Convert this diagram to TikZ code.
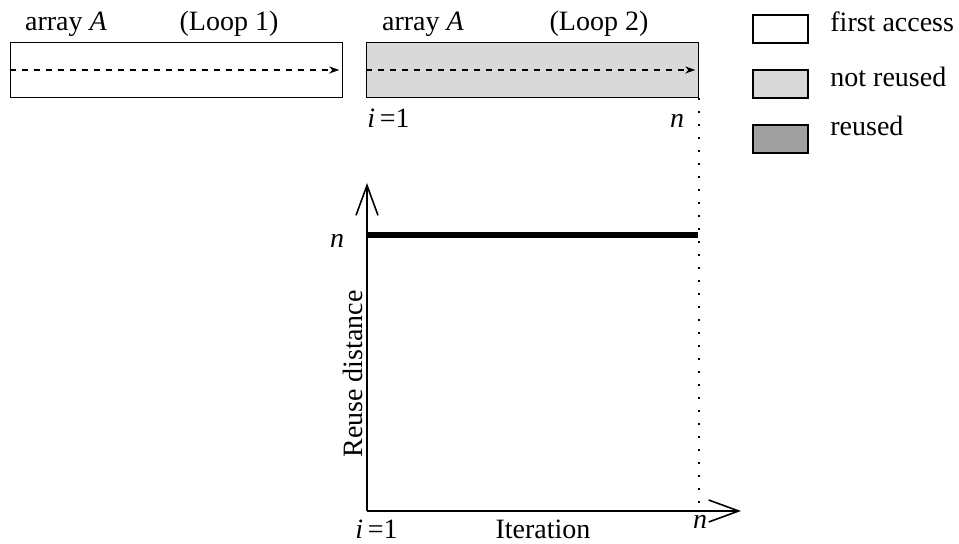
\documentclass[tikz,border=0pt]{standalone}
\usepackage{fontspec}
\setmainfont{Liberation Serif}
\usetikzlibrary{arrows.meta}
\tikzset{arraybox/.style={draw, line width=0.8pt, inner sep=0pt, minimum width=166pt, minimum height=27.5pt},
keybox/.style={draw, line width=0.8pt, inner sep=0pt, minimum width=27.5pt, minimum height=14pt},
lbl/.style={inner sep=0pt, anchor=base, font=\fontsize{14}{16}\selectfont},
sweep/.style={dashed, line width=0.6pt, -{Stealth[length=5pt, width=3.5pt, inset=1.5pt]}, shorten >=2pt},
axis/.style={line width=0.8pt, -{Straight Barb[length=15pt, width=11pt, line width=0.8pt]}}}
\definecolor{notreused}{RGB}{217,217,217}
\definecolor{reusedgray}{RGB}{160,160,160}

\begin{document}
\begin{tikzpicture}[x=0.5pt, y=-0.5pt]
  \useasboundingbox (0,0) rectangle (959,544);
  % the two sweeps over A
  \node[arraybox, fill=white] (l1) at (176.5,70) {};
  \node[arraybox, fill=notreused] (l2) at (532.5,70) {};
  \draw[sweep] (l1.west) -- (l1.east);
  \draw[sweep] (l2.west) -- (l2.east);
  \node[lbl] (a1) at (66,31) {array \textit{A}};
  \node[lbl] (p1) at (229,31) {(Loop 1)};
  \node[lbl] (a2) at (423,31) {array \textit{A}};
  \node[lbl] (p2) at (599,31) {(Loop 2)};
  \node[lbl, anchor=base west] (i1) at (367,128) {\textit{i}\,=1};
  \node[lbl] (n1) at (677,128) {\textit{n}};
  % legend
  \node[keybox, fill=white] (k1) at (780.5,29) {};
  \node[keybox, fill=notreused] (k2) at (780.5,84) {};
  \node[keybox, fill=reusedgray] (k3) at (780.5,139) {};
  \node[lbl, anchor=base west] (t1) at (830,32) {first access};
  \node[lbl, anchor=base west] (t2) at (830,87) {not reused};
  \node[lbl, anchor=base west] (t3) at (830,136) {reused};
  % reuse distance plot
  \coordinate (o) at (367,511);
  \coordinate (ytop) at (367,183);
  \coordinate (xend) at (741,511);
  \coordinate (hl) at (367,235);
  \coordinate (hr) at (698,235);
  \draw[axis] (o) -- (ytop);
  \draw[axis] (o) -- (xend);
  \draw[line width=2.6pt] (hl) -- (hr);
  \draw[line width=1pt, dash pattern=on 1pt off 5.5pt] (l2.south east) -- (l2.south east |- o);
  \node[lbl] (ny) at (337,248) {\textit{n}};
  \node[lbl, anchor=base west] (i2) at (355,539) {\textit{i}\,=1};
  \node[lbl] (it) at (543,539) {Iteration};
  \node[lbl] (nx) at (700,529) {\textit{n}};
  \node[lbl, rotate=90, anchor=base] (rd) at (362,374) {Reuse distance};
\end{tikzpicture}
\end{document}
